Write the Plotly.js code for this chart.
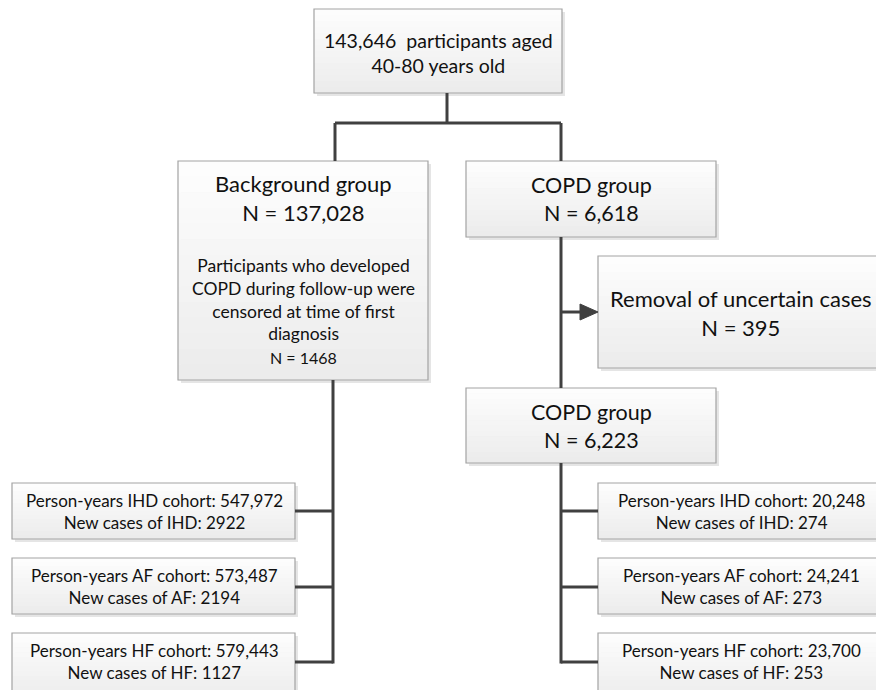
<!DOCTYPE html>
<html>
<head>
<meta charset="utf-8">
<script src="https://cdn.plot.ly/plotly-3.0.1.min.js"></script>
<style>
html,body{margin:0;padding:0;background:#fff;}
#chart{width:876px;height:690px;}
</style>
</head>
<body>
<div id="chart"></div>
<script>
// ---------------- DATA (texts and counts) ----------------
const totalParticipants = "143,646";
const ageRange = "40-80";
const groupNames = ["Background group", "COPD group", "COPD group"];
const groupN = ["137,028", "6,618", "6,223"];
const censoredNote = ["Participants who developed", "COPD during follow-up were", "censored at time of first", "diagnosis"];
const censoredN = "1468";
const removalLabel = "Removal of uncertain cases";
const removalN = "395";
const cohorts = ["IHD", "AF", "HF"];
const bgPersonYears = ["547,972", "573,487", "579,443"];
const bgNewCases = [2922, 2194, 1127];
const copdPersonYears = ["20,248", "24,241", "23,700"];
const copdNewCases = [274, 273, 253];

// ---------------- LAYOUT GEOMETRY (pixels) ----------------
const FONT = "Lato, 'Open Sans', sans-serif";
const TXT = "#111111";
const LINE = "#404040";
const boxes = {
  top:     {x0:314, x1:562, y0:9,   y1:93},
  bg:      {x0:178, x1:428, y0:161, y1:380},
  copd1:   {x0:466, x1:716, y0:161, y1:237},
  removal: {x0:598, x1:884, y0:256, y1:368},
  copd2:   {x0:466, x1:716, y0:388, y1:463}
};
const cohortRows = [{y0:483, y1:539}, {y0:558, y1:614}, {y0:633, y1:700}];
const leftCol = {x0:12, x1:295};
const rightCol = {x0:598, x1:884};
const branchY = [511, 587, 662];

const shapes = [];
const annotations = [];

function box(b){
  // shadow
  shapes.push({type:"rect", xref:"x", yref:"y", x0:b.x0+3, x1:b.x1+3, y0:b.y0+3, y1:b.y1+3,
               fillcolor:"rgba(0,0,0,0.10)", line:{width:0}, layer:"below"});
  // gradient (white at top -> light grey at bottom)
  const n = 14;
  for(let i=0;i<n;i++){
    const t = i/(n-1);
    const c = Math.round(253 - t*17);
    shapes.push({type:"rect", xref:"x", yref:"y", x0:b.x0, x1:b.x1,
      y0:b.y0 + (b.y1-b.y0)*i/n, y1:b.y0 + (b.y1-b.y0)*(i+1)/n + 0.5,
      fillcolor:`rgb(${c},${c},${c})`, line:{width:0}, layer:"below"});
  }
  // border
  shapes.push({type:"rect", xref:"x", yref:"y", x0:b.x0, x1:b.x1, y0:b.y0, y1:b.y1,
               fillcolor:"rgba(0,0,0,0)", line:{color:"#a3a3a3", width:1.2}, layer:"below"});
}
function seg(x0,y0,x1,y1){
  shapes.push({type:"line", xref:"x", yref:"y", x0:x0, y0:y0, x1:x1, y1:y1,
               line:{color:LINE, width:3}});
}
function label(x, y, lines, size){
  annotations.push({xref:"x", yref:"y", x:x, y:y, text:lines.join("<br>"), showarrow:false,
    xanchor:"center", yanchor:"middle", align:"center",
    font:{family:FONT, size:size, color:TXT}});
}

// connectors
seg(447, 93, 447, 123);
seg(335, 123, 561, 123);
seg(335, 123, 335, 161);
seg(561, 123, 561, 161);
seg(561, 237, 561, 388);
seg(561, 312, 584, 312);
shapes.push({type:"path", xref:"x", yref:"y", path:"M 580 304 L 598 312 L 580 320 Z",
             fillcolor:LINE, line:{color:LINE, width:1}});
seg(333, 380, 333, branchY[2]+1.5);
seg(561, 463, 561, branchY[2]+1.5);
branchY.forEach(y => { seg(leftCol.x1, y, 333, y); seg(561, y, rightCol.x0, y); });

// boxes
Object.values(boxes).forEach(box);
cohortRows.forEach(r => {
  box({x0:leftCol.x0, x1:leftCol.x1, y0:r.y0, y1:r.y1});
  box({x0:rightCol.x0, x1:rightCol.x1, y0:r.y0, y1:r.y1});
});

// texts
label(438, 53, [totalParticipants + "  participants aged", ageRange + " years old"], 19.5);
label(303, 198, [groupNames[0], "N = " + groupN[0]], 22);
label(303, 299, censoredNote, 17.5);
label(303, 357, ["N = " + censoredN], 16);
label(591, 199, [groupNames[1], "N = " + groupN[1]], 21.5);
label(741, 313, [removalLabel, "N = " + removalN], 22);
label(591, 426, [groupNames[2], "N = " + groupN[2]], 21.5);
const rowTextY = [511, 586, 661];
cohorts.forEach((c, i) => {
  label(154, rowTextY[i], ["Person-years " + c + " cohort: " + bgPersonYears[i], "New cases of " + c + ": " + bgNewCases[i]], 17);
  label(741, rowTextY[i], ["Person-years " + c + " cohort: " + copdPersonYears[i], "New cases of " + c + ": " + copdNewCases[i]], 17);
});

const layout = {
  width: 876, height: 690,
  margin: {l:0, r:0, t:0, b:0},
  paper_bgcolor: "#ffffff", plot_bgcolor: "#ffffff",
  xaxis: {range:[0, 876], visible:false, fixedrange:true},
  yaxis: {range:[690, 0], visible:false, fixedrange:true},
  shapes: shapes,
  annotations: annotations,
  showlegend: false
};
Plotly.newPlot("chart", [{x:[], y:[], type:"scatter", mode:"markers", hoverinfo:"skip"}], layout, {staticPlot:true, displayModeBar:false});
</script>
</body>
</html>
